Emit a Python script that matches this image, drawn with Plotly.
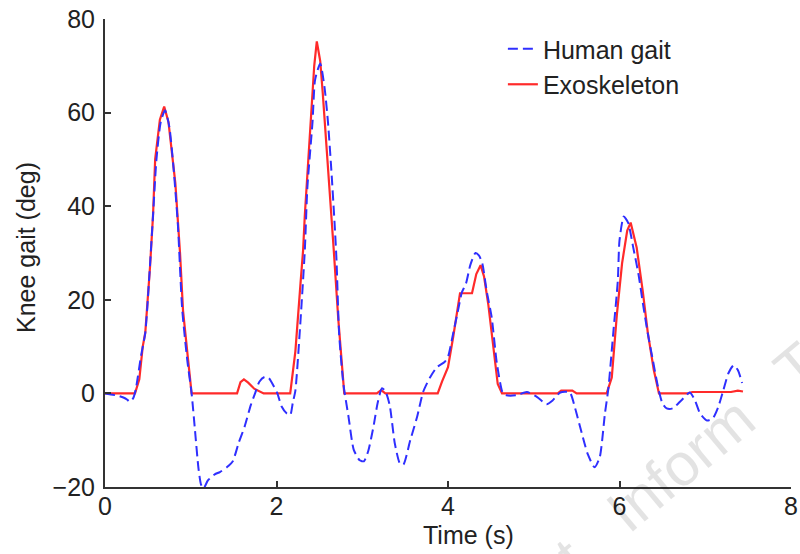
import plotly.graph_objects as go

# ---- data ----
exo_t = [0.00, 0.35, 0.40, 0.44, 0.47, 0.50, 0.525, 0.56, 0.585, 0.64, 0.69, 0.74, 0.78, 0.82,
         0.875, 0.91, 0.97, 1.01, 1.54, 1.58, 1.62, 1.67, 1.74, 1.85, 2.16, 2.22, 2.28, 2.31,
         2.33, 2.37, 2.41, 2.44, 2.47, 2.51, 2.54, 2.58, 2.63, 2.67, 2.72, 2.79, 3.17, 3.22,
         3.27, 3.88, 3.93, 4.00, 4.06, 4.10, 4.14, 4.28, 4.33, 4.38, 4.42, 4.47, 4.52, 4.58,
         4.63, 5.28, 5.32, 5.45, 5.50, 5.85, 5.91, 5.97, 6.03, 6.09, 6.13, 6.20, 6.27, 6.33,
         6.40, 6.46, 6.80, 6.85, 7.30, 7.38, 7.44]
exo_y = [0, 0, 3, 10, 13, 20, 27, 38, 50, 58.5, 61.3, 58, 52, 45,
         30, 17.7, 7, 0, 0, 2.4, 3, 2.3, 1, 0, 0, 9, 23.5, 30.5,
         38, 50, 62, 70, 75.2, 71, 64, 54, 40, 30, 16, 0, 0, 0.7,
         0, 0, 2.5, 5.6, 12, 16.5, 21.4, 21.4, 25.5, 27.4, 25, 19, 10.7, 2,
         0, 0, 0.6, 0.6, 0, 0, 3.4, 17, 27.8, 34.8, 36.5, 31.2, 22, 13,
         5, 0, 0, 0.3, 0.3, 0.6, 0.4]

hum_t = [0.00, 0.15, 0.25, 0.29, 0.33, 0.36, 0.42, 0.47, 0.52, 0.56, 0.60, 0.65, 0.70, 0.75,
         0.80, 0.85, 0.90, 0.96, 1.01, 1.05, 1.09, 1.12, 1.15, 1.20, 1.28, 1.34, 1.42, 1.49,
         1.56, 1.63, 1.70, 1.75, 1.80, 1.86, 1.91, 1.96, 2.01, 2.06, 2.12, 2.16, 2.19, 2.22,
         2.27, 2.33, 2.36, 2.42, 2.45, 2.51, 2.56, 2.60, 2.64, 2.68, 2.70, 2.73, 2.78, 2.84,
         2.90, 2.97, 3.02, 3.07, 3.13, 3.18, 3.23, 3.27, 3.32, 3.38, 3.44, 3.48, 3.56, 3.64,
         3.71, 3.79, 3.87, 3.96, 4.00, 4.06, 4.12, 4.16, 4.21, 4.26, 4.32, 4.36, 4.40, 4.45,
         4.51, 4.57, 4.64, 4.68, 4.80, 4.92, 5.04, 5.15, 5.22, 5.31, 5.42, 5.48, 5.56, 5.63,
         5.71, 5.77, 5.83, 5.87, 5.93, 5.98, 6.00, 6.05, 6.10, 6.16, 6.22, 6.28, 6.33, 6.39,
         6.45, 6.50, 6.55, 6.62, 6.72, 6.82, 6.88, 6.94, 7.02, 7.09, 7.15, 7.21, 7.27, 7.33,
         7.38, 7.43]
hum_y = [0, -0.5, -1.2, -1.8, -1, 1, 8, 13, 26, 38, 50, 58, 60.5, 57,
         48, 36, 18, 7, 0, -8, -16, -19.5, -20.3, -18.6, -17.3, -16.8, -15.8, -14.5,
         -10.5, -7, -2.5, 0, 2.5, 3.5, 3.3, 1.8, 0, -2.8, -4.3, -4.6, -2, 0.6,
         12.8, 30.5, 44, 58, 67, 70.5, 65.4, 58, 47.6, 35.5, 28.4, 12.8, 2, -5,
         -12, -14.3, -14.5, -12.3, -7.2, -2, 1.1, 0.5, -2.5, -10.7, -15, -15.2, -10, -5,
         0.3, 3.4, 5.6, 6.7, 7.8, 12.8, 18, 21.5, 23.5, 27.4, 30, 29.5, 27.8, 22,
         16.2, 6.4, 0, -0.4, -0.4, 0.3, -0.8, -2.3, -1.5, 0.2, 0.2, -3, -8.5, -13,
         -15.8, -13.6, -4.3, 1, 13.5, 24, 32.7, 37.8, 36.5, 31.2, 25.6, 18.4, 12.8, 7,
         1.3, -2.1, -3.2, -3.2, -1.5, 0.2, -1.5, -4.3, -5.8, -5.3, -3, 0.6, 4.3, 6,
         5, 2.2]

x_ticks = [0, 2, 4, 6, 8]
y_ticks = [-20, 0, 20, 40, 60, 80]

FONT = "Liberation Sans, Arial, sans-serif"

fig = go.Figure()
fig.add_trace(go.Scatter(
    x=exo_t, y=exo_y, mode="lines", name="Exoskeleton", legendrank=2,
    line=dict(color="#ff2a2a", width=2.2),
))
fig.add_trace(go.Scatter(
    x=hum_t, y=hum_y, mode="lines", name="Human gait", legendrank=1,
    line=dict(color="#2f2fff", width=2, dash="10px,5px", shape="spline", smoothing=0.6),
))

axis_common = dict(
    showline=True, linecolor="#333333", linewidth=2,
    ticks="inside", ticklen=6, tickwidth=2, tickcolor="#333333",
    showgrid=False, zeroline=False, mirror=False, automargin=False,
    tickfont=dict(family=FONT, size=25, color="#222222"),
)

fig.update_layout(
    width=800, height=554,
    margin=dict(l=105, r=9, t=19, b=67, autoexpand=False),
    paper_bgcolor="white", plot_bgcolor="white",
    font=dict(family=FONT, size=25, color="#222222"),
    xaxis=dict(range=[0, 8], tickvals=x_ticks, ticktext=[str(v) for v in x_ticks],
               ticklabelstandoff=-4, **axis_common),
    yaxis=dict(range=[-20, 80], tickvals=y_ticks,
               ticktext=[str(v) if v >= 0 else "\u2212" + str(-v) for v in y_ticks],
               ticklabelstandoff=3, **axis_common),
    showlegend=True,
    legend=dict(x=0.58, y=0.985, xanchor="left", yanchor="top",
                bgcolor="rgba(0,0,0,0)", font=dict(family=FONT, size=25, color="#222222"),
                tracegroupgap=0),
    annotations=[
        dict(text="Time (s)", xref="paper", yref="paper", x=0.5306, y=-0.1026,
             xanchor="center", yanchor="middle", showarrow=False,
             font=dict(family=FONT, size=25, color="#222222")),
        dict(text="Knee gait (deg)", xref="paper", yref="paper", x=-0.1152, y=0.5128,
             xanchor="center", yanchor="middle", showarrow=False, textangle=-90,
             font=dict(family=FONT, size=25, color="#222222")),
        dict(text="t   Inform   T", xref="paper", yref="paper", x=0.85, y=0.06,
             xanchor="center", yanchor="middle", showarrow=False, textangle=-40,
             font=dict(family=FONT, size=60, color="rgba(0,0,0,0.11)")),
    ],
)

fig.write_html("out.html",
               config={"displayModeBar": False},
               post_script="document.body.style.margin='0';document.body.style.overflow='hidden';")
